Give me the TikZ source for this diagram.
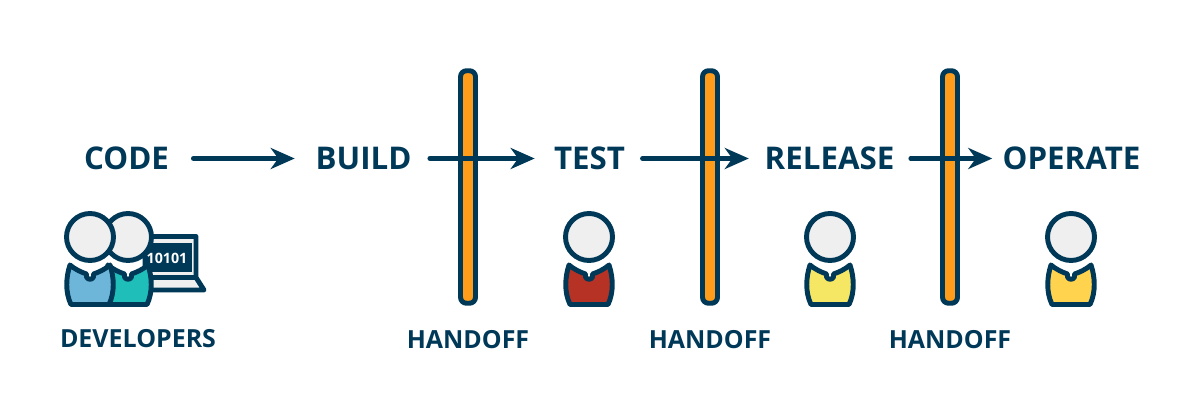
\documentclass[tikz,border=0pt]{standalone}
\usepackage{fontspec}
\setmainfont{Open Sans}
\definecolor{customnavy}{RGB}{0, 56, 88}
\definecolor{customorange}{RGB}{255, 156, 26}
\definecolor{customgray}{RGB}{239, 239, 239}
\definecolor{customblue}{RGB}{110, 182, 217}
\definecolor{customteal}{RGB}{31, 190, 184}
\definecolor{customred}{RGB}{181, 50, 36}
\definecolor{customyellow}{RGB}{245, 230, 99}
\definecolor{customgold}{RGB}{255, 211, 78}
\usetikzlibrary{arrows.meta,positioning}
\tikzset{
    stage/.style={font=\fontsize{17.8}{20}\selectfont\bfseries, text=customnavy, inner sep=0pt, text height=0.45cm, text depth=0pt},
    caption/.style={font=\fontsize{14.2}{17}\selectfont\bfseries, text=customnavy, inner sep=0pt},
    gate/.style={draw=customnavy, line width=2.8pt, fill=customorange, rounded corners=0.12cm, minimum width=0.3cm, minimum height=4.65cm, inner sep=0pt},
    flow/.style={customnavy, line width=2.6pt, line cap=round, -{Stealth[length=0.48cm,width=0.42cm,inset=0.15cm]}},
    person/.pic={
        \draw[customnavy, line width=2.8pt, line join=round, fill=#1]
            (-0.40,-0.56) .. controls (-0.28,-0.66) and (-0.18,-0.70) .. (-0.07,-0.74)
            -- (-0.07,-0.80) .. controls (-0.05,-0.86) and (0.05,-0.86) .. (0.07,-0.80)
            -- (0.07,-0.74) .. controls (0.18,-0.70) and (0.28,-0.66) .. (0.40,-0.56)
            .. controls (0.48,-0.8) and (0.50,-1.1) .. (0.38,-1.35)
            -- (-0.38,-1.35) .. controls (-0.50,-1.1) and (-0.48,-0.8) .. cycle;
        \draw[customnavy, line width=2.8pt, fill=customgray] (0,0) circle (0.47);
    }
}
\begin{document}
\begin{tikzpicture}
    \useasboundingbox (0,0) rectangle (24,8);

    % Stages
    \node[stage] (code) at (2.53,4.83) {CODE};
    \node[stage] (build) at (7.27,4.83) {BUILD};
    \node[stage] (test) at (11.79,4.83) {TEST};
    \node[stage] (release) at (16.59,4.83) {RELEASE};
    \node[stage] (operate) at (21.43,4.83) {OPERATE};

    % Handoff bars
    \node[gate] (gate1) at (9.36,4.26) {};
    \node[gate] (gate2) at (14.2,4.26) {};
    \node[gate] (gate3) at (19,4.26) {};
    \node[caption, below=0.48cm of gate1] (handoff1) {HANDOFF};
    \node[caption, below=0.48cm of gate2] (handoff2) {HANDOFF};
    \node[caption, below=0.48cm of gate3] (handoff3) {HANDOFF};

    % Arrows
    \draw[flow, shorten <=0.48cm, shorten >=0.41cm] (code.east) -- (build.west);
    \draw[flow, shorten <=0.36cm, shorten >=0.38cm] (build.east) -- (test.west);
    \draw[flow, shorten <=0.34cm, shorten >=0.31cm] (test.east) -- (release.west);
    \draw[flow, shorten <=0.32cm, shorten >=0.2cm] (release.east) -- (operate.west);

    % Laptop
    \draw[customnavy, line width=2.8pt, fill=customgray, line join=round] (2.9,3.27) -- (3.92,3.27) -- (3.92,2.45) -- (4.08,2.2) -- (2.9,2.2) -- cycle;
    \draw[customnavy, line width=2.8pt] (2.9,2.45) -- (3.92,2.45);
    \fill[customnavy] (2.9,3.14) rectangle (3.84,2.56);
    \node[font=\fontsize{8.1}{9}\selectfont\bfseries, text=white, inner sep=0pt] (bits) at (3.34,2.84) {10101};

    % People
    \pic at (2.56,3.26) {person=customteal};
    \pic at (1.8,3.26) {person=customblue};
    \node[caption] (developers) at (2.76,1.22) {DEVELOPERS};
    \pic at (11.78,3.26) {person=customred};
    \pic at (16.6,3.26) {person=customyellow};
    \pic at (21.42,3.26) {person=customgold};
\end{tikzpicture}
\end{document}
